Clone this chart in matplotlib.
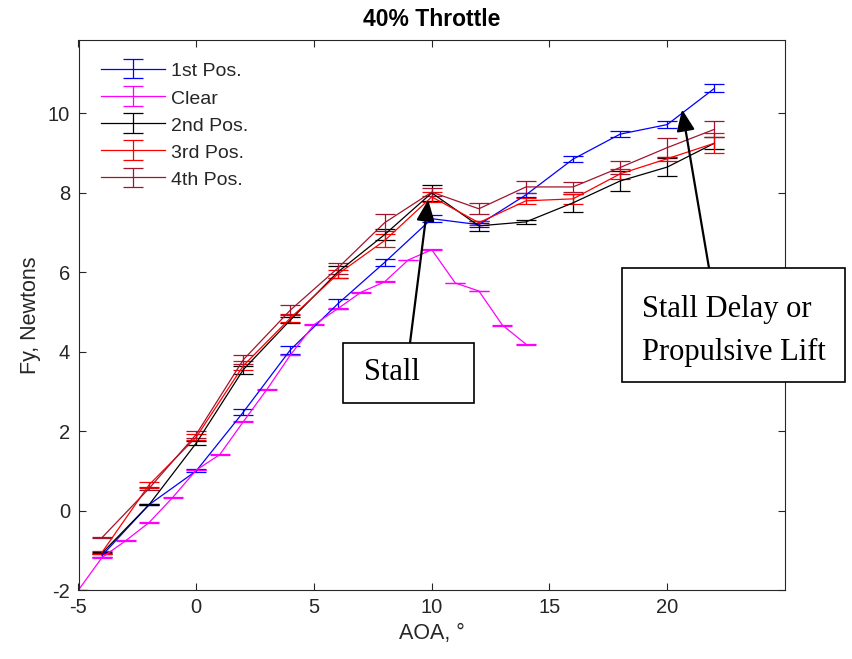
import numpy as np
import matplotlib.pyplot as plt
from matplotlib.patches import Rectangle

plt.rcParams['font.family'] = ['Liberation Sans', 'DejaVu Sans']
plt.rcParams['axes.unicode_minus'] = False

# angle of attack (deg) for the probe positions
aoa = [-4, -2, 0, 2, 4, 6, 8, 10, 12, 14, 16, 18, 20, 22]
# clear wing was swept every degree
aoa_clear = [-5, -4, -3, -2, -1, 0, 1, 2, 3, 4, 5, 6, 7, 8, 9, 10, 11, 12, 13, 14]

fy_pos1 = [-1.13, 0.15, 1.0, 2.48, 4.05, 5.2, 6.25, 7.35, 7.2, 7.95, 8.85, 9.48, 9.72, 10.63]
err_pos1 = [0.05, 0.02, 0.04, 0.07, 0.1, 0.12, 0.09, 0.09, 0.05, 0.05, 0.07, 0.08, 0.08, 0.1]

fy_clear = [-2.0, -1.18, -0.76, -0.3, 0.33, 1.02, 1.41, 2.24, 3.05, 3.92, 4.68,
            5.08, 5.5, 5.76, 6.31, 6.57, 5.73, 5.53, 4.67, 4.19]
err_clear = [0.01] * 20

fy_pos2 = [-1.07, 0.15, 1.7, 3.55, 4.8, 6.0, 6.95, 8.0, 7.17, 7.27, 7.75, 8.3, 8.65, 9.25]
err_pos2 = [0.03, 0.02, 0.05, 0.1, 0.08, 0.15, 0.14, 0.2, 0.12, 0.05, 0.22, 0.25, 0.23, 0.15]

fy_pos3 = [-1.05, 0.65, 1.85, 3.65, 4.85, 5.95, 6.8, 7.9, 7.25, 7.8, 7.85, 8.48, 8.86, 9.25]
err_pos3 = [0.04, 0.08, 0.08, 0.12, 0.1, 0.1, 0.17, 0.12, 0.05, 0.08, 0.12, 0.12, 0.05, 0.25]

fy_pos4 = [-0.68, 0.56, 1.92, 3.8, 5.05, 6.1, 7.25, 8.02, 7.6, 8.15, 8.15, 8.64, 9.14, 9.6]
err_pos4 = [0.02, 0.04, 0.08, 0.12, 0.12, 0.13, 0.22, 0.1, 0.14, 0.15, 0.12, 0.17, 0.23, 0.2]

W, H = 852, 659
fig = plt.figure(figsize=(W / 100, H / 100), dpi=100)

def fpx(x, y):
    # pixel position -> figure fraction
    return x / W, 1 - y / H

ax = fig.add_axes([78.5 / W, 1 - 590 / H, (785 - 78.5) / W, (590 - 40) / H])

series = [
    (aoa, fy_pos1, err_pos1, 'blue', '1st Pos.'),
    (aoa_clear, fy_clear, err_clear, 'magenta', 'Clear'),
    (aoa, fy_pos2, err_pos2, 'black', '2nd Pos.'),
    (aoa, fy_pos3, err_pos3, 'red', '3rd Pos.'),
    (aoa, fy_pos4, err_pos4, '#A2142F', '4th Pos.'),
]
for x, y, e, c, lab in series:
    ax.errorbar(x, y, yerr=e, color=c, lw=0.9, elinewidth=0.9, capsize=7.5,
                capthick=0.9, label=lab)

ax.set_xlim(-5, 25)
ax.set_ylim(-2, 11.85)
ax.set_xticks([-5, 0, 5, 10, 15, 20])
ax.set_yticks([-2, 0, 2, 4, 6, 8, 10])
ax.tick_params(direction='in', top=True, right=True, length=5, width=0.8,
               labelsize=14.5, colors='0.15', pad=6)
for s in ax.spines.values():
    s.set_color('0.15')
    s.set_linewidth(0.8)

ax.set_xlabel('AOA, °', fontsize=15.5, color='0.15', labelpad=4)
ax.set_ylabel('Fy, Newtons', fontsize=15.5, color='0.15', labelpad=5)
ax.set_title('40% Throttle', fontsize=16.5, fontweight='bold', pad=10)

leg = ax.legend(loc='upper left', bbox_to_anchor=fpx(101, 61),
                bbox_transform=fig.transFigure, frameon=False, fontsize=14,
                handlelength=3.3, handleheight=1.0, handletextpad=0.3,
                labelspacing=0.4, borderaxespad=0, borderpad=0)
for t in leg.get_texts():
    t.set_color('0.15')

# annotation boxes, white-filled so they sit over the axes frame
box_kw = dict(transform=fig.transFigure, fc='white', ec='black', lw=1.2,
              zorder=5)
x0, y0 = fpx(343, 403)
x1, y1 = fpx(474, 343)
fig.patches.append(Rectangle((x0, y0), x1 - x0, y1 - y0, **box_kw))
fig.text(*fpx(364, 373), 'Stall', family='Liberation Serif', fontsize=22,
         va='center', ha='left', zorder=6)

x0, y0 = fpx(622, 382)
x1, y1 = fpx(845, 268)
fig.patches.append(Rectangle((x0, y0), x1 - x0, y1 - y0, **box_kw))
fig.text(*fpx(642, 331), 'Stall Delay or\nPropulsive Lift',
         family='Liberation Serif', fontsize=22, va='center', ha='left',
         linespacing=1.6, zorder=6)

arrow = dict(arrowstyle='-|>,head_length=1.3,head_width=0.55', color='black',
             lw=1.6, mutation_scale=10, shrinkA=0, shrinkB=0)
ax.annotate('', xy=(9.85, 7.83), xytext=fpx(410, 343),
            textcoords='figure fraction', arrowprops=arrow)
ax.annotate('', xy=(20.63, 10.1), xytext=fpx(709, 268),
            textcoords='figure fraction', arrowprops=arrow)

fig.savefig('out.png', dpi=100)
